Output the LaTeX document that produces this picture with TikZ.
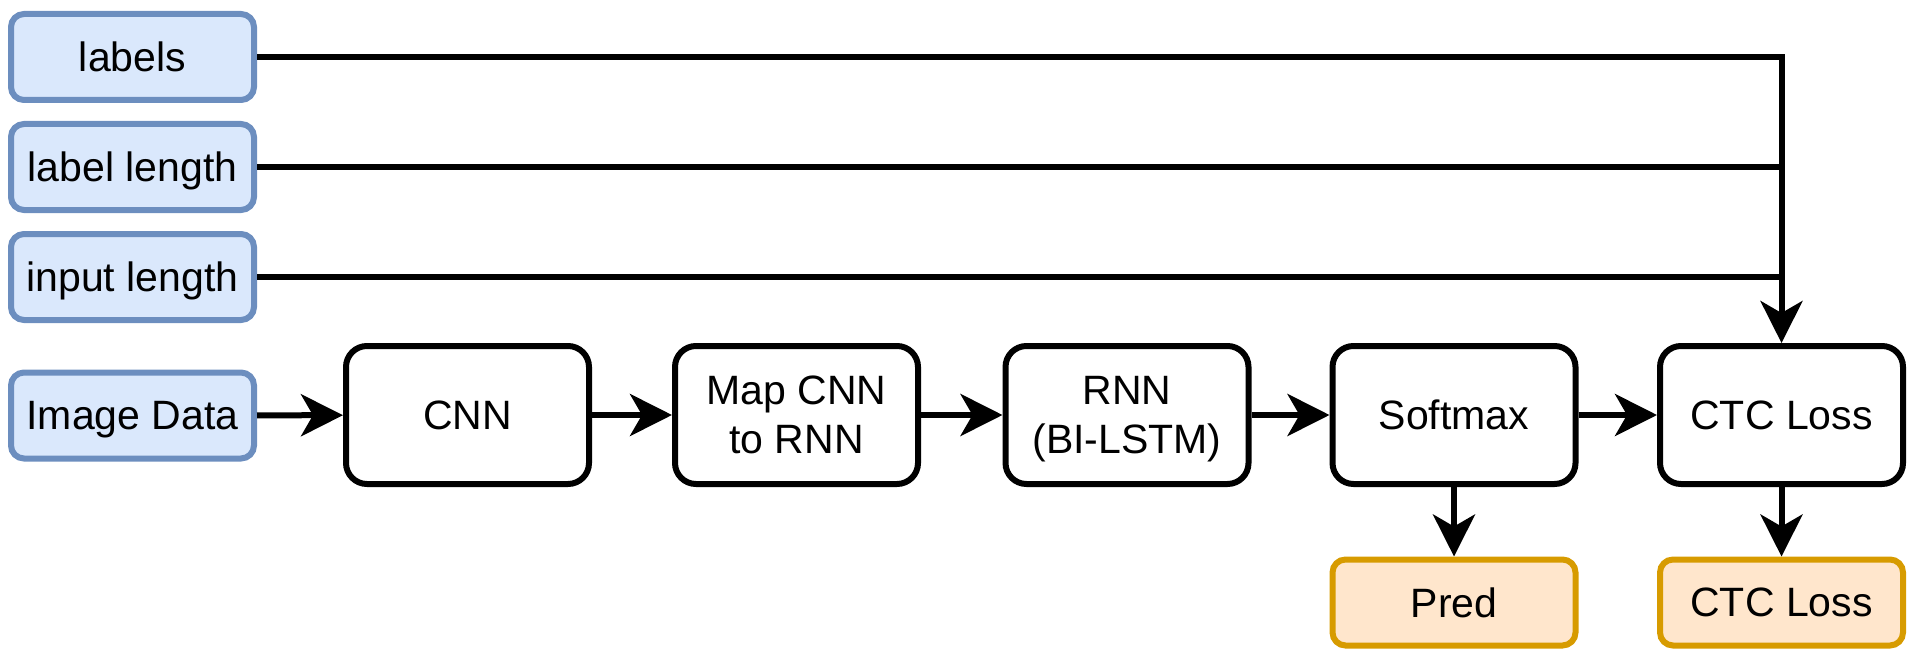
\documentclass[tikz,border=0pt]{standalone}
\usepackage{fontspec}
\setmainfont{Liberation Sans}
\usetikzlibrary{arrows.meta}
\definecolor{inblue}{HTML}{DAE8FC}
\definecolor{inbord}{HTML}{6C8EBF}
\definecolor{outorange}{HTML}{FFE6CC}
\definecolor{outbord}{HTML}{D79B00}

\begin{document}
\begin{tikzpicture}[x=0.5pt,y=0.5pt,yscale=-1,
    inbox/.style={draw=inbord,fill=inblue,line width=3pt,rounded corners=6.5pt,minimum width=121.5pt,minimum height=43pt,inner sep=0pt,text depth=0pt,font=\fontsize{20.5}{24.6}\selectfont},
    outbox/.style={inbox,draw=outbord,fill=outorange},
    stage/.style={draw=black,fill=white,line width=3pt,rounded corners=10.5pt,minimum width=121.5pt,minimum height=69pt,inner sep=0pt,text depth=0pt,align=center,font=\fontsize{20.5}{24.6}\selectfont},
    flow/.style={line width=3pt,-{Stealth[length=21pt,width=21pt,inset=6pt]}},
    feed/.style={line width=3pt}]
\useasboundingbox (0,0) rectangle (1916,658);

% Input boxes
    \node [inbox] (lab) at (132.5,57) {labels};
    \node [inbox] (llen) at (132.5,167) {label length};
    \node [inbox] (ilen) at (132.5,277) {input length};
    \node [inbox] (img) at (132.5,415.5) {Image Data};

% Stages
    \node [stage] (cnn) at (467.5,415) {CNN};
    \node [stage] (map) at (796.5,415) {Map CNN\\to RNN};
    \node [stage] (rnn) at (1127,415) {RNN\\(BI-LSTM)};
    \node [stage] (soft) at (1454,415) {Softmax};
    \node [stage] (ctc) at (1781.5,415) {CTC Loss};

% Outputs
    \node [outbox] (pred) at (1454,602.5) {Pred};
    \node [outbox] (loss) at (1781.5,602.5) {CTC Loss};

% Main row
    \draw [flow] (img) -- (cnn);
    \draw [flow] (cnn) -- (map);
    \draw [flow] (map) -- (rnn);
    \draw [flow] (rnn) -- (soft);
    \draw [flow] (soft) -- (ctc);
    \draw [flow] (soft) -- (pred);
    \draw [flow] (ctc) -- (loss);

% Inputs into CTC Loss
    \draw [flow] (lab) -| (ctc);
    \draw [feed] (llen) -- (llen -| ctc);
    \draw [feed] (ilen) -- (ilen -| ctc);

\end{tikzpicture}
\end{document}
